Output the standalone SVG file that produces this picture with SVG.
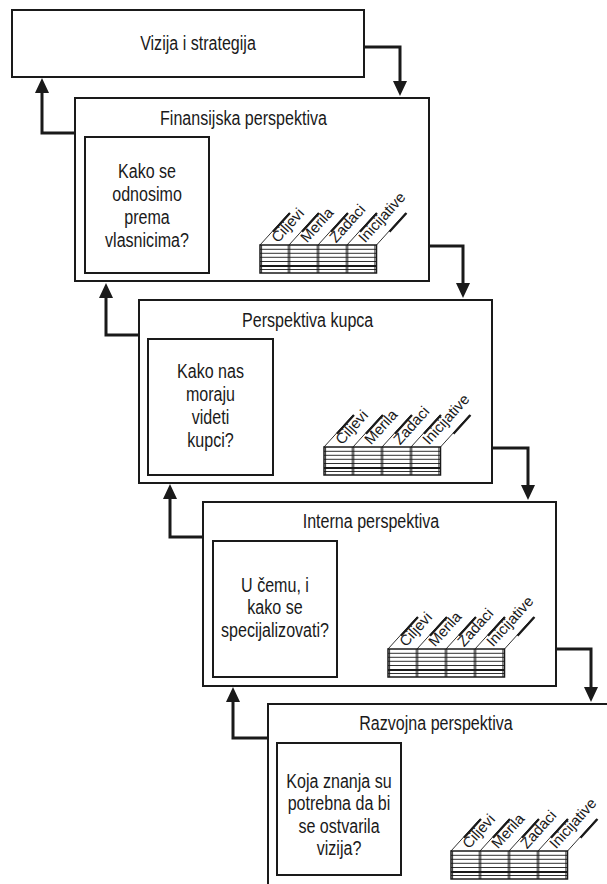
<svg xmlns="http://www.w3.org/2000/svg" xmlns:xlink="http://www.w3.org/1999/xlink" width="607" height="884" viewBox="0 0 607 884">
<style>
  .box{fill:#fff;stroke:#1a1a1a;stroke-width:2}
  .inner{fill:#fff;stroke:#1a1a1a;stroke-width:2}
  .t{font-family:"Liberation Sans",Arial,sans-serif;font-size:19.6px;fill:#1a1a1a;text-anchor:middle}
  .lbl{font-family:"Liberation Sans",Arial,sans-serif;font-size:15px;fill:#1a1a1a}
  .conn{fill:none;stroke:#1a1a1a;stroke-width:3}
  .g1{fill:#fff;stroke:#1a1a1a;stroke-width:1.5}
  .g2{fill:none;stroke:#1a1a1a;stroke-width:0.9}
  .g3{fill:none;stroke:#1a1a1a;stroke-width:2.2}
</style>
<defs>
  <marker id="ah" markerUnits="userSpaceOnUse" viewBox="0 0 15 14" refX="1" refY="7" markerWidth="15" markerHeight="14" orient="auto">
    <path d="M0,0 L15,7 L0,14 z" fill="#1a1a1a"/>
  </marker>
  <g id="grid">
    <rect class="g1" x="0" y="0" width="116.5" height="28"/>
    <path class="g2" d="M0,4.3H116.5M0,8.3H116.5M0,12.3H116.5M0,16.5H116.5M0,24.5H116.5"/>
    <path class="g3" d="M0,21H116.5"/>
    <path class="g2" d="M1.6,0V28M28.2,0V28M29.8,0V28M57.2,0V28M58.8,0V28M86.2,0V28M87.8,0V28M114.9,0V28"/>
    <path class="g2" d="M0,0L29,-32M29,0L58,-32M58,0L87,-32M87,0L116,-32M116.5,0L145.5,-32"/>
    <path class="g3" d="M13,-13.2L30,-32M42,-13.2L59,-32M71,-13.2L88,-32M100,-13.2L117,-32M129.5,-13.2L146.5,-32"/>
  </g>
</defs>

<g id="connectors">
  <path class="conn" d="M364,47H400V82" marker-end="url(#ah)"/>
  <path class="conn" d="M75,133H42V92" marker-end="url(#ah)"/>
  <path class="conn" d="M429,246H463V284" marker-end="url(#ah)"/>
  <path class="conn" d="M139,335H106V297" marker-end="url(#ah)"/>
  <path class="conn" d="M492,448H528V486" marker-end="url(#ah)"/>
  <path class="conn" d="M203,537H170V498" marker-end="url(#ah)"/>
  <path class="conn" d="M556,649H591V688" marker-end="url(#ah)"/>
  <path class="conn" d="M268,738H233V701" marker-end="url(#ah)"/>
</g>

<g id="vizija">
  <rect class="box" x="12" y="10" width="352" height="67"/>
  <text class="t" transform="translate(198,50) scale(0.82,1)">Vizija i strategija</text>
</g>

<g id="finansijska">
  <rect class="box" x="75" y="98" width="354" height="183"/>
  <text class="t" transform="translate(243.5,125) scale(0.82,1)">Finansijska perspektiva</text>
  <rect class="inner" x="85" y="137" width="124" height="136"/>
  <text class="t" transform="translate(147,178) scale(0.82,1)"><tspan x="0" y="0">Kako se</tspan><tspan x="0" y="23">odnosimo</tspan><tspan x="0" y="46">prema</tspan><tspan x="0" y="69">vlasnicima?</tspan></text>
  <g transform="translate(260,245)">
    <use xlink:href="#grid"/>
    <text class="lbl" transform="translate(18,-1.5) rotate(-47.8)">Ciljevi</text>
    <text class="lbl" transform="translate(47,-1.5) rotate(-47.8)">Merila</text>
    <text class="lbl" transform="translate(76,-1.5) rotate(-47.8)">Zadaci</text>
    <text class="lbl" transform="translate(105,-1.5) rotate(-47.8)">Inicijative</text>
  </g>
</g>

<g id="kupca">
  <rect class="box" x="139" y="300" width="353" height="183"/>
  <text class="t" transform="translate(307.7,327) scale(0.82,1)">Perspektiva kupca</text>
  <rect class="inner" x="148" y="339" width="125" height="136"/>
  <text class="t" transform="translate(210.5,378) scale(0.82,1)"><tspan x="0" y="0">Kako nas</tspan><tspan x="0" y="23">moraju</tspan><tspan x="0" y="46">videti</tspan><tspan x="0" y="69">kupci?</tspan></text>
  <g transform="translate(324,447)">
    <use xlink:href="#grid"/>
    <text class="lbl" transform="translate(18,-1.5) rotate(-47.8)">Ciljevi</text>
    <text class="lbl" transform="translate(47,-1.5) rotate(-47.8)">Merila</text>
    <text class="lbl" transform="translate(76,-1.5) rotate(-47.8)">Zadaci</text>
    <text class="lbl" transform="translate(105,-1.5) rotate(-47.8)">Inicijative</text>
  </g>
</g>

<g id="interna">
  <rect class="box" x="203" y="502" width="353" height="184"/>
  <text class="t" transform="translate(371,528) scale(0.82,1)">Interna perspektiva</text>
  <rect class="inner" x="213" y="541" width="124" height="136"/>
  <text class="t" transform="translate(275,592) scale(0.82,1)"><tspan x="0" y="0">U čemu, i</tspan><tspan x="0" y="22.5">kako se</tspan><tspan x="0" y="45">specijalizovati?</tspan></text>
  <g transform="translate(388,649)">
    <use xlink:href="#grid"/>
    <text class="lbl" transform="translate(18,-1.5) rotate(-47.8)">Ciljevi</text>
    <text class="lbl" transform="translate(47,-1.5) rotate(-47.8)">Merila</text>
    <text class="lbl" transform="translate(76,-1.5) rotate(-47.8)">Zadaci</text>
    <text class="lbl" transform="translate(105,-1.5) rotate(-47.8)">Inicijative</text>
  </g>
</g>

<g id="razvojna">
  <rect class="box" x="268" y="704" width="400" height="260"/>
  <text class="t" transform="translate(436,730) scale(0.82,1)">Razvojna perspektiva</text>
  <rect class="inner" x="277" y="743" width="124" height="132"/>
  <text class="t" transform="translate(339,788) scale(0.82,1)"><tspan x="0" y="0">Koja znanja su</tspan><tspan x="0" y="22.5">potrebna da bi</tspan><tspan x="0" y="45">se ostvarila</tspan><tspan x="0" y="67.5">vizija?</tspan></text>
  <g transform="translate(451,851)">
    <use xlink:href="#grid"/>
    <text class="lbl" transform="translate(18,-1.5) rotate(-47.8)">Ciljevi</text>
    <text class="lbl" transform="translate(47,-1.5) rotate(-47.8)">Merila</text>
    <text class="lbl" transform="translate(76,-1.5) rotate(-47.8)">Zadaci</text>
    <text class="lbl" transform="translate(105,-1.5) rotate(-47.8)">Inicijative</text>
  </g>
</g>
</svg>
